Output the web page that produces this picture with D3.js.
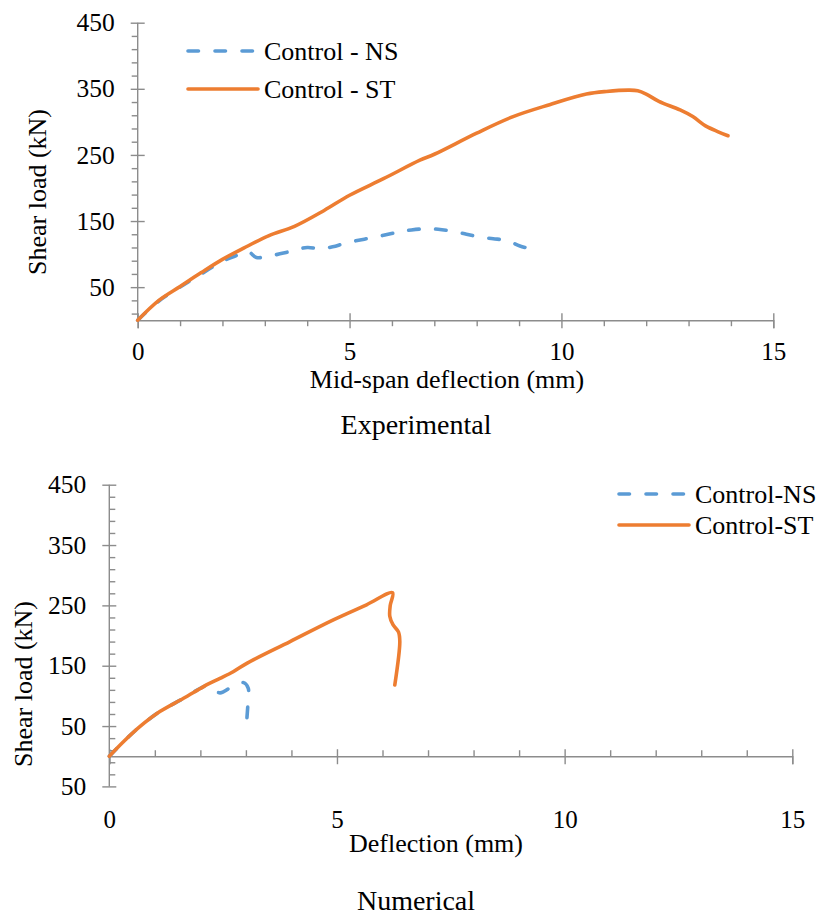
<!DOCTYPE html>
<html>
<head>
<meta charset="utf-8">
<script src="https://cdn.jsdelivr.net/npm/d3@7/dist/d3.min.js"></script>
<style>
  html, body { margin: 0; padding: 0; background: #fff; }
  svg { display: block; }
  text { font-family: "Liberation Serif", "Times New Roman", serif; fill: #000; }
</style>
</head>
<body>
<svg id="chart" width="819" height="916"></svg>
<script>
// Load–deflection curves (deflection mm, shear load kN)
const expNS = [[0,0],[0.5,29],[1.0,50],[1.5,70],[2.0,89],[2.3,97],[2.6,104],[2.8,95],[3.1,97],[3.6,104],[4.0,110],[4.3,108],[4.6,111],[4.93,117],[5.7,127],[6.2,134],[6.46,136.5],[6.82,138.4],[7.09,137.5],[7.48,134],[7.76,130],[8.11,125.4],[8.39,123.3],[8.74,120],[9.02,112.3],[9.42,106]];
const expST = [[0,0],[0.5,30],[1.0,51],[1.5,72],[2.0,92],[2.5,109],[3.1,128],[3.7,142],[4.4,166],[5.0,189],[5.8,214],[6.66,242],[7.0,251],[8.0,283],[8.86,308],[9.72,326],[10.59,342],[11.06,346],[11.6,348],[11.8,347],[12.0,342],[12.3,331],[12.8,318],[13.1,308],[13.4,294],[13.7,285],[13.93,279]];
const numNS = [[0,0],[0.31,24],[0.67,49],[1.11,74],[1.63,96],[2.06,115],[2.15,117],[2.43,105],[2.69,115],[2.95,122],[3.05,113],[3.05,95],[3.02,61]];
const numST = [[0,0],[0.31,24],[0.67,49],[1.11,74],[1.63,96],[2.06,115],[2.21,121],[2.43,129],[2.72,140],[3.02,154],[3.97,190],[4.92,226],[5.65,251],[6.22,271],[6.17,250],[6.16,232],[6.23,218],[6.35,206],[6.38,190],[6.27,118]];

// Axis ticks
const xMajor = [0, 5, 10, 15];
const xMinor = [1, 2, 3, 4, 6, 7, 8, 9, 11, 12, 13, 14];
const yMajorExp = [50, 150, 250, 350, 450];
const yMinorExp = [10, 30, 70, 90, 110, 130, 170, 190, 210, 230, 270, 290, 310, 330, 370, 390, 410, 430];
const yMajorNum = [-50, 50, 150, 250, 350, 450];
const yMinorNum = [-30, -10, 10, 30, 70, 90, 110, 130, 170, 190, 210, 230, 270, 290, 310, 330, 370, 390, 410, 430];

const seriesNames = ["Control - NS", "Control - ST"];
const seriesNamesNum = ["Control-NS", "Control-ST"];
const blue = "#5B9BD5", orange = "#ED7D31", axisCol = "#8C8C8C";

const svg = d3.select("#chart");

function panel(cfg) {
  const g = svg.append("g");
  const x = d3.scaleLinear().domain([0, 15]).range([cfg.x0, cfg.x1]);
  const y = d3.scaleLinear().domain(cfg.yDomain).range([cfg.yBottom, cfg.yTop]);
  const fmt = d => String(Math.abs(d));

  // minor y ticks
  g.append("g").attr("transform", `translate(${cfg.x0},0)`)
    .call((cfg.minorIn ? d3.axisRight(y) : d3.axisLeft(y)).tickValues(cfg.yMinor).tickSize(6).tickFormat(""))
    .call(a => a.select(".domain").remove());
  // minor x ticks
  g.append("g").attr("transform", `translate(0,${y(0)})`)
    .call((cfg.minorIn ? d3.axisTop(x) : d3.axisBottom(x)).tickValues(xMinor).tickSize(6).tickFormat(""))
    .call(a => a.select(".domain").remove());

  // major y axis
  const ya = g.append("g").attr("transform", `translate(${cfg.x0},0)`)
    .call(d3.axisLeft(y).tickValues(cfg.yMajor).tickFormat(fmt).tickSizeOuter(0).tickSize(7).tickPadding(cfg.yPad));
  ya.selectAll(".tick line").attr("x1", 7).attr("x2", -7);
  ya.select(".domain").attr("d", `M0,${y(cfg.yDomain[0])}V${y(cfg.yDomain[1])}`);
  ya.selectAll("text").style("font-size", "25.5px").style("font-family", "Liberation Serif, serif").attr("fill", "#000");

  // major x axis at y = 0
  const xa = g.append("g").attr("transform", `translate(0,${y(0)})`)
    .call(d3.axisBottom(x).tickValues(xMajor).tickFormat(fmt).tickSizeOuter(0).tickSize(8).tickPadding(cfg.xPad));
  xa.selectAll(".tick line").attr("y1", -7).attr("y2", 8);
  xa.selectAll("text").style("font-size", "25px").style("font-family", "Liberation Serif, serif").attr("fill", "#000");

  g.selectAll(".domain, .tick line").attr("stroke", axisCol).attr("stroke-width", 1.4);

  const line = d3.line().x(d => x(d[0])).y(d => y(d[1])).curve(d3.curveCatmullRom.alpha(0.5));
  g.append("path").datum(cfg.ns).attr("d", line).attr("fill", "none")
    .attr("stroke", blue).attr("stroke-width", 3.6).attr("stroke-linecap", "round")
    .attr("stroke-dasharray", "10.5,16.5");
  g.append("path").datum(cfg.st).attr("d", line).attr("fill", "none")
    .attr("stroke", orange).attr("stroke-width", 3.6).attr("stroke-linecap", "round").attr("stroke-linejoin", "round");

  // axis titles
  g.append("text").attr("x", cfg.xTitlePos[0]).attr("y", cfg.xTitlePos[1])
    .attr("text-anchor", "middle").style("font-size", "26px").text(cfg.xTitle);
  g.append("text").attr("transform", `translate(${cfg.yTitlePos[0]},${cfg.yTitlePos[1]}) rotate(-90)`)
    .attr("text-anchor", "middle").style("font-size", "26px").text("Shear load (kN)");
  g.append("text").attr("x", cfg.subPos[0]).attr("y", cfg.subPos[1])
    .attr("text-anchor", "middle").style("font-size", "28px").text(cfg.sub);

  // legend
  const lg = g.append("g");
  cfg.names.forEach((name, i) => {
    const ly = cfg.legY[i];
    lg.append("line").attr("x1", cfg.legX).attr("x2", cfg.legX + 70).attr("y1", ly).attr("y2", ly)
      .attr("stroke", i ? orange : blue).attr("stroke-width", 3.6).attr("stroke-linecap", "round")
      .attr("stroke-dasharray", i ? null : "10.5,16.5");
    lg.append("text").attr("x", cfg.legX + 76).attr("y", ly).attr("dy", "0.33em")
      .style("font-size", "26px").text(name);
  });
}

panel({
  x0: 137.7, x1: 773.3, yDomain: [0, 450], yBottom: 320.2, yTop: 22.7,
  yMajor: yMajorExp, yMinor: yMinorExp, minorIn: false, yPad: 16, xPad: 14,
  ns: expNS, st: expST,
  xTitle: "Mid-span deflection (mm)", xTitlePos: [447, 388],
  yTitlePos: [46, 192], sub: "Experimental", subPos: [416, 434],
  names: seriesNames, legX: 188, legY: [51, 89]
});

panel({
  x0: 109.3, x1: 792.3, yDomain: [-50, 450], yBottom: 786.4, yTop: 484.7,
  yMajor: yMajorNum, yMinor: yMinorNum, minorIn: true, yPad: 16, xPad: 46,
  ns: numNS, st: numST,
  xTitle: "Deflection (mm)", xTitlePos: [436, 852],
  yTitlePos: [32, 684], sub: "Numerical", subPos: [416, 910],
  names: seriesNamesNum, legX: 619, legY: [494, 525]
});
</script>
</body>
</html>
